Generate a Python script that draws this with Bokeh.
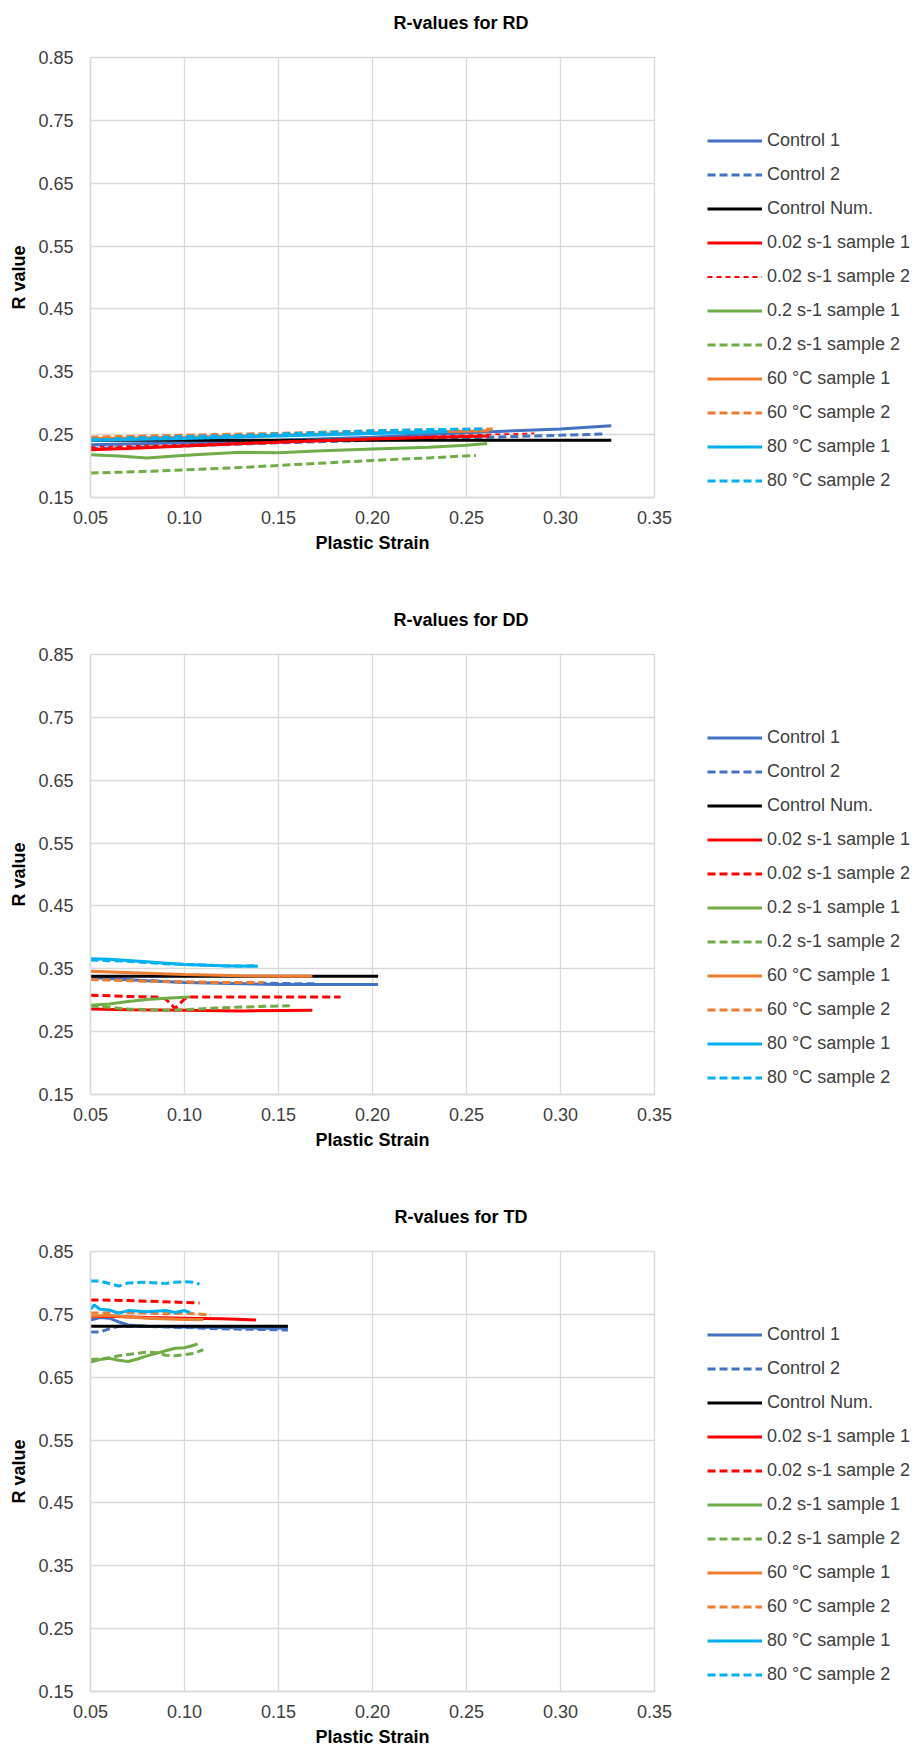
from bokeh.plotting import figure
from bokeh.models import Legend, LegendItem, FixedTicker, NumeralTickFormatter, Range1d, Title
from bokeh.layouts import column, row
from bokeh.embed import file_html
from bokeh.resources import INLINE

# ---------------- data ----------------
series_names = ["Control 1", "Control 2", "Control Num.", "0.02 s-1 sample 1", "0.02 s-1 sample 2",
                "0.2 s-1 sample 1", "0.2 s-1 sample 2", "60 °C sample 1", "60 °C sample 2",
                "80 °C sample 1", "80 °C sample 2"]
x_ticks = [0.05, 0.10, 0.15, 0.20, 0.25, 0.30, 0.35]
y_ticks = [0.15, 0.25, 0.35, 0.45, 0.55, 0.65, 0.75, 0.85]
panel_titles = ["R-values for RD", "R-values for DD", "R-values for TD"]

# RD
rd_control1_x = [0.05, 0.10, 0.15, 0.20, 0.25, 0.30, 0.327]
rd_control1_y = [0.234, 0.237, 0.241, 0.246, 0.253, 0.259, 0.264]
rd_control2_x = [0.05, 0.10, 0.15, 0.20, 0.25, 0.30, 0.323]
rd_control2_y = [0.228, 0.232, 0.237, 0.241, 0.245, 0.249, 0.251]
rd_num_x = [0.05, 0.10, 0.15, 0.20, 0.25, 0.30, 0.327]
rd_num_y = [0.241, 0.241, 0.241, 0.241, 0.241, 0.241, 0.241]
rd_r1_x = [0.05, 0.07, 0.10, 0.15, 0.20, 0.25, 0.262]
rd_r1_y = [0.226, 0.228, 0.232, 0.238, 0.243, 0.247, 0.248]
rd_r2_x = [0.05, 0.10, 0.15, 0.20, 0.25, 0.286]
rd_r2_y = [0.230, 0.234, 0.239, 0.244, 0.249, 0.252]
rd_g1_x = [0.05, 0.065, 0.08, 0.095, 0.11, 0.13, 0.15, 0.17, 0.20, 0.23, 0.25, 0.261]
rd_g1_y = [0.218, 0.216, 0.213, 0.216, 0.219, 0.222, 0.221, 0.224, 0.227, 0.230, 0.233, 0.236]
rd_g2_x = [0.05, 0.075, 0.10, 0.125, 0.15, 0.175, 0.20, 0.23, 0.255]
rd_g2_y = [0.189, 0.191, 0.194, 0.197, 0.201, 0.205, 0.209, 0.213, 0.217]
rd_o1_x = [0.05, 0.10, 0.15, 0.20, 0.262]
rd_o1_y = [0.244, 0.246, 0.249, 0.253, 0.256]
rd_o2_x = [0.05, 0.10, 0.15, 0.20, 0.264]
rd_o2_y = [0.246, 0.249, 0.252, 0.256, 0.259]
rd_c1_x = [0.05, 0.10, 0.15, 0.20, 0.24]
rd_c1_y = [0.241, 0.244, 0.248, 0.252, 0.255]
rd_c2_x = [0.05, 0.06, 0.07, 0.08, 0.10, 0.12, 0.15, 0.20, 0.23, 0.259]
rd_c2_y = [0.243, 0.242, 0.245, 0.245, 0.247, 0.248, 0.251, 0.256, 0.258, 0.259]

# DD
dd_control1_x = [0.05, 0.08, 0.10, 0.15, 0.203]
dd_control1_y = [0.336, 0.331, 0.328, 0.325, 0.325]
dd_control2_x = [0.05, 0.10, 0.14, 0.17]
dd_control2_y = [0.334, 0.329, 0.327, 0.326]
dd_num_x = [0.05, 0.10, 0.15, 0.203]
dd_num_y = [0.338, 0.338, 0.338, 0.338]
dd_r1_x = [0.05, 0.07, 0.10, 0.13, 0.168]
dd_r1_y = [0.286, 0.285, 0.284, 0.283, 0.284]
dd_r2_x = [0.05, 0.07, 0.085, 0.09, 0.095, 0.10, 0.103, 0.12, 0.15, 0.183]
dd_r2_y = [0.308, 0.306, 0.305, 0.302, 0.287, 0.302, 0.305, 0.305, 0.305, 0.305]
dd_g1_x = [0.05, 0.06, 0.07, 0.08, 0.09, 0.103]
dd_g1_y = [0.292, 0.294, 0.298, 0.301, 0.303, 0.305]
dd_g2_x = [0.05, 0.06, 0.07, 0.08, 0.09, 0.10, 0.12, 0.14, 0.156]
dd_g2_y = [0.291, 0.289, 0.286, 0.285, 0.284, 0.285, 0.288, 0.290, 0.291]
dd_o1_x = [0.05, 0.08, 0.10, 0.13, 0.15, 0.168]
dd_o1_y = [0.346, 0.343, 0.341, 0.339, 0.338, 0.338]
dd_o2_x = [0.05, 0.07, 0.10, 0.12, 0.142]
dd_o2_y = [0.333, 0.331, 0.329, 0.328, 0.328]
dd_c1_x = [0.05, 0.06, 0.08, 0.10, 0.12, 0.139]
dd_c1_y = [0.366, 0.365, 0.361, 0.357, 0.355, 0.354]
dd_c2_x = [0.05, 0.07, 0.09, 0.11, 0.13, 0.139]
dd_c2_y = [0.364, 0.362, 0.358, 0.356, 0.354, 0.355]

# TD
td_control1_x = [0.05, 0.055, 0.06, 0.065, 0.07, 0.08, 0.10, 0.12, 0.14, 0.155]
td_control1_y = [0.741, 0.745, 0.744, 0.738, 0.733, 0.731, 0.730, 0.729, 0.728, 0.728]
td_control2_x = [0.05, 0.055, 0.06, 0.065, 0.07, 0.08, 0.10, 0.12, 0.14, 0.155]
td_control2_y = [0.722, 0.722, 0.727, 0.731, 0.731, 0.731, 0.729, 0.727, 0.726, 0.725]
td_num_x = [0.05, 0.10, 0.155]
td_num_y = [0.731, 0.731, 0.731]
td_r1_x = [0.05, 0.06, 0.08, 0.10, 0.12, 0.138]
td_r1_y = [0.746, 0.747, 0.745, 0.744, 0.743, 0.741]
td_r2_x = [0.05, 0.07, 0.09, 0.108]
td_r2_y = [0.773, 0.772, 0.770, 0.768]
td_g1_x = [0.05, 0.055, 0.06, 0.065, 0.07, 0.075, 0.08, 0.085, 0.09, 0.095, 0.10, 0.104, 0.107]
td_g1_y = [0.674, 0.678, 0.680, 0.677, 0.675, 0.679, 0.684, 0.688, 0.692, 0.696, 0.697, 0.700, 0.703]
td_g2_x = [0.05, 0.055, 0.06, 0.065, 0.07, 0.075, 0.08, 0.085, 0.09, 0.095, 0.10, 0.105, 0.11]
td_g2_y = [0.678, 0.679, 0.681, 0.684, 0.686, 0.688, 0.690, 0.689, 0.685, 0.684, 0.686, 0.688, 0.694]
td_o1_x = [0.05, 0.06, 0.08, 0.10, 0.11]
td_o1_y = [0.747, 0.748, 0.744, 0.742, 0.742]
td_o2_x = [0.05, 0.07, 0.09, 0.10, 0.114]
td_o2_y = [0.752, 0.753, 0.751, 0.752, 0.749]
td_c1_x = [0.05, 0.052, 0.055, 0.06, 0.065, 0.07, 0.08, 0.09, 0.095, 0.10, 0.103]
td_c1_y = [0.758, 0.765, 0.758, 0.757, 0.752, 0.756, 0.754, 0.756, 0.753, 0.756, 0.753]
td_c2_x = [0.05, 0.055, 0.06, 0.065, 0.07, 0.08, 0.09, 0.095, 0.10, 0.105, 0.108]
td_c2_y = [0.803, 0.803, 0.799, 0.795, 0.800, 0.801, 0.799, 0.801, 0.802, 0.801, 0.798]

rd_series = [(rd_control1_x, rd_control1_y), (rd_control2_x, rd_control2_y), (rd_num_x, rd_num_y),
             (rd_r1_x, rd_r1_y), (rd_r2_x, rd_r2_y), (rd_g1_x, rd_g1_y), (rd_g2_x, rd_g2_y),
             (rd_o1_x, rd_o1_y), (rd_o2_x, rd_o2_y), (rd_c1_x, rd_c1_y), (rd_c2_x, rd_c2_y)]
dd_series = [(dd_control1_x, dd_control1_y), (dd_control2_x, dd_control2_y), (dd_num_x, dd_num_y),
             (dd_r1_x, dd_r1_y), (dd_r2_x, dd_r2_y), (dd_g1_x, dd_g1_y), (dd_g2_x, dd_g2_y),
             (dd_o1_x, dd_o1_y), (dd_o2_x, dd_o2_y), (dd_c1_x, dd_c1_y), (dd_c2_x, dd_c2_y)]
td_series = [(td_control1_x, td_control1_y), (td_control2_x, td_control2_y), (td_num_x, td_num_y),
             (td_r1_x, td_r1_y), (td_r2_x, td_r2_y), (td_g1_x, td_g1_y), (td_g2_x, td_g2_y),
             (td_o1_x, td_o1_y), (td_o2_x, td_o2_y), (td_c1_x, td_c1_y), (td_c2_x, td_c2_y)]

# ---------------- styles ----------------
COLORS = ["#4472C4", "#4472C4", "#000000", "#FF0000", "#FF0000", "#70AD47", "#70AD47",
          "#ED7D31", "#ED7D31", "#00B0F0", "#00B0F0"]
DASHED = [False, True, False, False, True, False, True, False, True, False, True]
FONT = "Liberation Sans"
GRID = "#D9D9D9"
TEXT = "#404040"
MAIN_W = 674
LEG_W = 920 - MAIN_W
LEG_MARGIN = 6


def line_style(i, thin_red2):
    width = 3
    dash = "solid"
    if DASHED[i]:
        dash = "8 4"
    if i == 4 and thin_red2:
        width = 1.8
        dash = "5 4"
    return width, dash


def make_panel(title, series, height, thin_red2, title_offset):
    bottom_border = height - 57 - 440
    p = figure(width=MAIN_W, height=height, output_backend="svg", toolbar_location=None,
               x_range=Range1d(0.05, 0.35), y_range=Range1d(0.15, 0.85),
               min_border_left=90, min_border_right=MAIN_W - 654, min_border_top=57,
               min_border_bottom=bottom_border, outline_line_color=GRID,
               outline_line_width=1.3, background_fill_color="white", border_fill_color="white")
    p.title = Title(text=title, align="left", offset=title_offset, standoff=18,
                    vertical_align="top",
                    padding=dict(left=0, right=0, top=0, bottom=14),
                    text_font=FONT, text_font_size="18px", text_font_style="bold",
                    text_color="#000000")
    for ax, lab, so in ((p.xaxis[0], "Plastic Strain", 13), (p.yaxis[0], "R value", 17)):
        ax.axis_label = lab
        ax.axis_label_text_font = FONT
        ax.axis_label_text_font_size = "18px"
        ax.axis_label_text_font_style = "bold"
        ax.axis_label_text_color = "#000000"
        ax.axis_label_standoff = 6
        ax.major_label_text_font = FONT
        ax.major_label_text_font_size = "18px"
        ax.major_label_text_color = TEXT
        ax.major_label_standoff = so
        ax.major_tick_out = 0
        ax.major_tick_in = 0
        ax.minor_tick_out = 0
        ax.minor_tick_in = 0
        ax.axis_line_color = GRID
        ax.axis_line_width = 1.5
        ax.formatter = NumeralTickFormatter(format="0.00")
    p.xaxis[0].ticker = FixedTicker(ticks=x_ticks, minor_ticks=[])
    p.yaxis[0].ticker = FixedTicker(ticks=y_ticks, minor_ticks=[])
    p.xgrid[0].ticker = FixedTicker(ticks=x_ticks, minor_ticks=[])
    p.ygrid[0].ticker = FixedTicker(ticks=y_ticks, minor_ticks=[])
    for g in (p.xgrid[0], p.ygrid[0]):
        g.grid_line_color = GRID
        g.grid_line_width = 1.3

    for i, (xs, ys) in enumerate(series):
        width, dash = line_style(i, thin_red2)
        p.line(xs, ys, line_color=COLORS[i], line_width=width, line_dash=dash)

    # Legend lives in its own figure to the right of the plot. Its renderers reuse the
    # same series, but its ranges lie far outside the data, so only the key is visible.
    # Top/bottom borders equal the plot's, so the row keeps the plot frame in place.
    lg = figure(width=LEG_W, height=height, output_backend="svg", toolbar_location=None,
                x_range=Range1d(10, 11), y_range=Range1d(10, 11),
                x_axis_type=None, y_axis_type=None,
                min_border_left=707 - MAIN_W - LEG_MARGIN, min_border_right=0,
                min_border_top=57, min_border_bottom=bottom_border,
                outline_line_color=None, background_fill_color="white", border_fill_color="white")
    lg.xgrid.visible = False
    lg.ygrid.visible = False
    items = []
    for i, (name, (xs, ys)) in enumerate(zip(series_names, series)):
        width, dash = line_style(i, thin_red2)
        r = lg.line(xs, ys, line_color=COLORS[i], line_width=width, line_dash=dash)
        items.append(LegendItem(label=name, renderers=[r]))
    legend = Legend(items=items, location="bottom_left", orientation="vertical",
                    padding=0, margin=LEG_MARGIN, spacing=13, glyph_width=55, glyph_height=21,
                    label_height=21, label_standoff=5, label_text_font=FONT,
                    label_text_font_size="18px", label_text_color=TEXT,
                    border_line_color=None, background_fill_alpha=0)
    lg.add_layout(legend)
    return row(p, lg, spacing=0)


p1 = make_panel(panel_titles[0], rd_series, 597, True, 303)
p2 = make_panel(panel_titles[1], dd_series, 597, False, 303)
p3 = make_panel(panel_titles[2], td_series, 558, False, 304)

layout = column(p1, p2, p3, spacing=0)
open("out.html", "w").write(file_html(layout, INLINE))
